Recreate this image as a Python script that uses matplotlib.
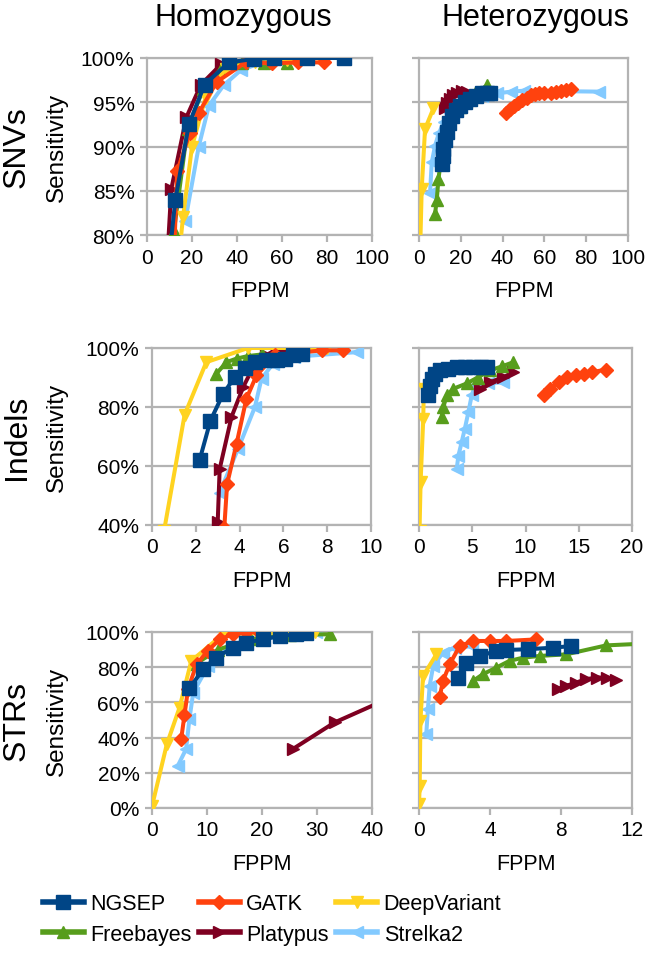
import matplotlib
matplotlib.use('Agg')
import matplotlib.pyplot as plt
from matplotlib.ticker import FuncFormatter, MultipleLocator
from matplotlib.lines import Line2D

plt.rcParams['font.family'] = ['Liberation Sans', 'DejaVu Sans']

tools = ['NGSEP', 'GATK', 'DeepVariant', 'Freebayes', 'Platypus', 'Strelka2']
colors = {'NGSEP': '#004586', 'GATK': '#ff420e', 'DeepVariant': '#ffd320',
          'Freebayes': '#579d1c', 'Platypus': '#7e0021', 'Strelka2': '#83caff'}
markers = {'NGSEP': 's', 'GATK': 'D', 'DeepVariant': 'v',
           'Freebayes': '^', 'Platypus': '>', 'Strelka2': '<'}
msizes = {'NGSEP': 10, 'GATK': 7.5, 'DeepVariant': 9,
          'Freebayes': 9, 'Platypus': 9, 'Strelka2': 9}
# drawing order, bottom to top
draw_order = ['Strelka2', 'Platypus', 'Freebayes', 'DeepVariant', 'GATK', 'NGSEP']

# SNVs homozygous
snv_hom = {
    'NGSEP': ([8.5, 12.6, 18.6, 25.6, 36.4, 47.5, 56.5, 71, 87.7],
              [74, 84, 92.5, 97.0, 99.5, 99.9, 100, 100, 100]),
    'GATK': ([11.5, 13.4, 19, 23, 31, 43.8, 55.7, 66.9, 78.8],
             [74, 87.2, 91.5, 93.8, 97.3, 99.5, 99.4, 99.5, 99.5]),
    'DeepVariant': ([13.2, 16, 20, 26, 35, 48, 62, 77],
                    [75, 82, 90, 95.5, 98.8, 99.6, 99.8, 100]),
    'Freebayes': ([12, 18, 25, 33, 42, 52, 62],
                  [80.5, 92, 96.5, 98.8, 99.4, 99.4, 99.4]),
    'Platypus': ([8.5, 10.8, 17.5, 24, 33, 45, 58],
                 [75, 85.2, 93.3, 97, 99.3, 99.8, 100]),
    'Strelka2': ([17, 23, 27.5, 34, 41.6, 50, 60],
                 [81.6, 90, 94.6, 96.9, 98.6, 99.4, 99.7]),
}

# SNVs heterozygous
snv_het = {
    'NGSEP': ([10.9, 11.3, 11.7, 12.4, 13.3, 14.4, 15.7, 17.5, 19.7, 22, 24.6, 27.3, 30.2, 32.5, 34.2],
              [88, 88.9, 89.7, 90.7, 91.6, 92.6, 93.5, 94.1, 94.6, 95.0, 95.4, 95.7, 96, 96.1, 96.1]),
    'GATK': ([41.4, 43.5, 45.4, 47.5, 49.4, 51.5, 53.5, 55.5, 57.5, 60, 63, 65.5, 67.9, 70.3, 72.7],
             [93.8, 94.2, 94.6, 94.9, 95.2, 95.5, 95.8, 95.9, 96.1, 96.1, 96.1, 96.2, 96.3, 96.4, 96.5]),
    'DeepVariant': ([0.3, 1.3, 2.9, 6.9],
                    [76, 85.2, 92, 94.3]),
    'Freebayes': ([7.7, 8.5, 9.3, 10.5, 12, 14, 16.5, 19.5, 23, 27, 32.6],
                  [82.4, 84, 86.3, 88.5, 90.5, 92.2, 93.5, 94.5, 95.3, 96, 96.9]),
    'Platypus': ([12.5, 13.5, 14.9, 16.5, 18.1, 20.5, 23],
                 [94.3, 94.9, 95.4, 95.8, 96.1, 96.3, 96.2]),
    'Strelka2': ([5.3, 6.1, 7.7, 9.5, 12, 15, 19, 24, 30, 37.4, 44, 50, 86],
                 [84.8, 88.2, 90.1, 91.5, 92.8, 93.8, 94.6, 95.2, 95.7, 96, 96.2, 96.3, 96.2]),
}

# Indels homozygous
indel_hom = {
    'NGSEP': ([2.18, 2.67, 3.25, 3.78, 4.24, 4.7, 5.2, 5.7, 6.07, 6.45, 6.83],
              [62.2, 75.4, 84.5, 90.1, 93.2, 95.2, 95.8, 96.1, 96.4, 97.5, 98.1]),
    'GATK': ([3.3, 3.43, 3.86, 4.31, 4.77, 5.61, 7.74, 8.73],
             [39, 53.9, 67.5, 82.8, 90.7, 97.5, 99.2, 99.2]),
    'DeepVariant': ([0.55, 1.49, 2.48, 4.39, 7.97],
                    [38, 77.4, 95.2, 100, 100]),
    'Freebayes': ([2.94, 3.4, 3.86, 4.4, 5.0],
                  [91.3, 95.2, 96.4, 97.3, 97.8]),
    'Platypus': ([3.0, 3.09, 3.63, 4.16, 4.62, 5.2, 5.69, 6.14, 7.2],
                 [40.9, 59, 76.6, 86.7, 93.5, 97.5, 99.5, 100, 100]),
    'Strelka2': ([3.09, 3.93, 4.7, 5.0, 5.53, 6.5, 9.34],
                 [51, 65.8, 80, 89.6, 94.7, 97, 98.6]),
}

# Indels heterozygous
indel_het = {
    'NGSEP': ([0.88, 1.0, 1.19, 1.5, 1.97, 2.7, 3.54, 4.3, 5.1, 5.8, 6.36],
              [83.9, 87, 89.6, 91.2, 92.4, 93, 93.5, 93.5, 93.5, 93.6, 93.6]),
    'GATK': ([11.7, 12.3, 13.1, 13.9, 14.7, 15.45, 16.2, 17.6],
             [83.9, 86.2, 88.4, 90.1, 90.7, 91.3, 91.8, 92.7]),
    'DeepVariant': ([0.05, 0.15, 0.4, 0.45],
                    [38, 54.5, 76, 86.2]),
    'Freebayes': ([2.13, 2.29, 2.6, 3.23, 4.5, 5.5, 6.68, 7.8, 8.87],
                  [76.6, 80, 83.9, 86.2, 88, 90, 92.4, 93.8, 95.2]),
    'Platypus': ([5.74, 6.68, 7.93, 8.87],
                 [86.2, 88.4, 90.1, 91.8]),
    'Strelka2': ([3.54, 3.7, 4.0, 4.3, 4.64, 4.95, 5.27, 6.5, 7.93],
                 [59, 63.5, 68, 72.6, 78.3, 84, 87.3, 88, 88.4]),
}

# STRs homozygous
str_hom = {
    'NGSEP': ([6.8, 9.3, 11.6, 14.7, 17.1, 20.2, 23.2, 26.2, 28],
              [68, 78.8, 85.4, 91.1, 94, 95.8, 97.7, 98.7, 99.6]),
    'GATK': ([5.3, 5.9, 6.55, 8.1, 10.1, 12.3, 14.7, 17.1, 19.5],
             [39, 52.7, 67.5, 81.7, 89.2, 95.8, 98.7, 100, 100]),
    'DeepVariant': ([0, 2.7, 5, 7.15, 12.9, 20, 29.6],
                    [1, 36.3, 57, 83.6, 98.7, 99.5, 100]),
    'Freebayes': ([8, 12, 18, 25, 32.3],
                  [82, 90, 96, 98.5, 98.7]),
    'Platypus': ([25.6, 33.2, 45],
                 [33.5, 48.6, 65]),
    'Strelka2': ([4.7, 6.2, 6.8, 7.5, 10.2, 14, 20, 25, 29.9],
                 [24, 33.5, 50.5, 65.6, 80.7, 91, 96, 98.5, 100]),
}

# STRs heterozygous
str_het = {
    'NGSEP': ([2.2, 2.67, 3.42, 4.36, 4.92, 6.14, 7.55, 8.58],
              [74, 82.6, 86.4, 89.2, 89.8, 90.2, 91.1, 92]),
    'GATK': ([1.16, 1.35, 1.73, 2.29, 3.04, 3.98, 4.92, 6.61],
             [62.8, 72.2, 81.7, 92, 94.9, 94.9, 94.9, 95.8]),
    'DeepVariant': ([0, 0.04, 0.08, 0.23, 0.98],
                    [2.1, 12.7, 49.5, 75, 87.3]),
    'Freebayes': ([3.04, 3.6, 4.36, 5.1, 5.86, 6.8, 8.3, 10.55, 14],
                  [72.2, 76, 79.8, 83.6, 85.4, 86.4, 87.3, 92.4, 94]),
    'Platypus': ([7.83, 8.3, 8.86, 9.43, 10, 10.6, 11.1],
                 [67.5, 69.4, 71.3, 73.2, 74.1, 74.1, 72.8]),
    'Strelka2': ([0.41, 0.5, 0.6, 0.8, 1.35, 2.0, 3.0],
                 [42, 56, 69.4, 80.7, 88.3, 91, 92]),
}

col_titles = ['Homozygous', 'Heterozygous']
row_titles = ['SNVs', 'Indels', 'STRs']

# panel boxes in pixels: left, top, right, bottom
W, H = 650, 954
boxes = [(147, 59, 372, 236), (419, 59, 628, 236),
         (152, 349, 371, 526), (419, 349, 632, 526),
         (152, 633, 372, 809), (419, 633, 632, 809)]
panels = [snv_hom, snv_het, indel_hom, indel_het, str_hom, str_het]
xlims = [(0, 100, 20), (0, 100, 20), (0, 10, 2), (0, 20, 5), (0, 40, 10), (0, 12, 4)]
ylims = [(80, 100, 5), (80, 100, 5), (40, 100, 20), (40, 100, 20), (0, 100, 20), (0, 100, 20)]

grid_c = '#b3b3b3'
fig = plt.figure(figsize=(W / 100, H / 100), dpi=100)

for i, (data, box) in enumerate(zip(panels, boxes)):
    l, t, r, b = box
    ax = fig.add_axes([l / W, 1 - b / H, (r - l) / W, (b - t) / H])
    for k, name in enumerate(draw_order):
        x, y = data[name]
        ax.plot(x, y, color=colors[name], lw=2.9, marker=markers[name],
                ms=msizes[name], mec=colors[name], zorder=3 + k)
    x0, x1, xs = xlims[i]
    y0, y1, ys = ylims[i]
    ax.set_xlim(x0, x1)
    ax.set_ylim(y0, y1)
    ax.xaxis.set_major_locator(MultipleLocator(xs))
    ax.yaxis.set_major_locator(MultipleLocator(ys))
    ax.yaxis.set_major_formatter(FuncFormatter(lambda v, p: '%d%%' % v))
    ax.grid(axis='y', color=grid_c, lw=1.6, zorder=1)
    ax.set_axisbelow(True)
    for s in ax.spines.values():
        s.set_color(grid_c)
        s.set_linewidth(1.6)
    ax.tick_params(colors=grid_c, width=1.6, length=5, labelcolor='black',
                   labelsize=15, pad=4)
    ax.set_xlabel('FPPM', fontsize=15.5, labelpad=10)
    if i % 2 == 0:
        ax.set_ylabel('Sensitivity', fontsize=17.5)
        ax.yaxis.set_label_coords((68 - l) / (r - l), 0.5)
        fig.text(17 / W, 1 - (t + b) / 2 / H, row_titles[i // 2],
                 rotation=90, fontsize=23, va='center', ha='center')
    else:
        ax.tick_params(axis='y', labelleft=False)

fig.text(243 / W, 1 - 18 / H, col_titles[0], fontsize=22, ha='center', va='center')
fig.text(535 / W, 1 - 18 / H, col_titles[1], fontsize=22, ha='center', va='center')

# legend filled row by row like the reference
leg_order = ['NGSEP', 'Freebayes', 'GATK', 'Platypus', 'DeepVariant', 'Strelka2']
handles = [Line2D([], [], color=colors[n], lw=4, marker=markers[n],
                  ms=msizes[n], mec=colors[n]) for n in leg_order]
fig.legend(handles, leg_order, loc='center', ncol=3, frameon=False,
           fontsize=15.5, bbox_to_anchor=(272 / W, 1 - 920 / H), handlelength=1.9,
           handletextpad=0.3, columnspacing=0.35, labelspacing=0.45,
           borderpad=0, borderaxespad=0)

fig.savefig('out.png', dpi=100)
